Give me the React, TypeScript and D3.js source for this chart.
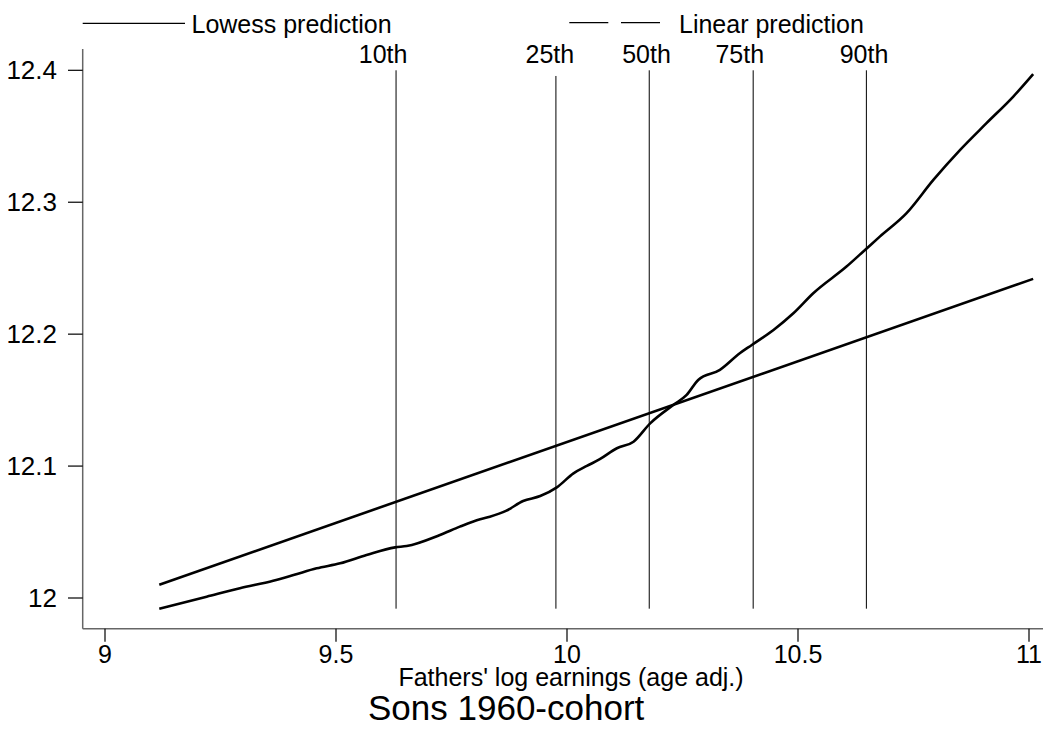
import React from "react";
import * as d3 from "d3";

// ---- data ----
const lowessX = [
  9.1175, 9.22, 9.292, 9.364, 9.408, 9.458, 9.509, 9.566, 9.628, 9.653, 9.725, 9.768,
  9.812, 9.833, 9.869, 9.905, 9.942, 9.978, 10.014, 10.043, 10.071, 10.108, 10.144,
  10.18, 10.23, 10.259, 10.284, 10.331, 10.374, 10.4, 10.447, 10.49, 10.533, 10.605,
  10.645, 10.677, 10.735, 10.793, 10.851, 10.908, 10.966, 11.009,
];
const lowessY = [
  11.9919, 12.001, 12.0074, 12.0131, 12.0174, 12.0225, 12.0263, 12.0326, 12.0384,
  12.0394, 12.0478, 12.0541, 12.0597, 12.0616, 12.0662, 12.0735, 12.0773, 12.0839,
  12.0945, 12.1001, 12.1052, 12.1135, 12.1185, 12.1324, 12.1463, 12.1539, 12.1653,
  12.1729, 12.1855, 12.1918, 12.2032, 12.2158, 12.231, 12.2512, 12.2638, 12.2739,
  12.2917, 12.3169, 12.3397, 12.3599, 12.3801, 12.3971,
];
const linearX = [9.1175, 11.009];
const linearY = [12.0101, 12.2419];

const percentileLabels = ["10th", "25th", "50th", "75th", "90th"];
const percentileX = [9.63, 9.976, 10.178, 10.403, 10.648];
const percentileLabelX = [9.602, 9.963, 10.172, 10.374, 10.643];
const percentileTop = [12.4, 12.3957, 12.4, 12.4, 12.4];
const percentileBottom = 11.9919;

const xTicks = [9, 9.5, 10, 10.5, 11];
const yTicks = [12, 12.1, 12.2, 12.3, 12.4];

const legendLabels = ["Lowess prediction", "Linear prediction"];
const xTitle = "Fathers' log earnings (age adj.)";
const chartTitle = "Sons 1960-cohort";

export default function App() {
  const W = 1057;
  const H = 731;
  const x = d3.scaleLinear().domain([9, 11]).range([105, 1029]);
  const y = d3.scaleLinear().domain([12, 12.4]).range([598, 70.3]);
  const font = "'Liberation Sans', Arial, sans-serif";

  const frameLeft = 82.7;
  const frameBottom = 628.7;
  const frameTop = 49;
  const frameRight = 1043;

  const line = d3
    .line<[number, number]>()
    .x((d) => x(d[0]))
    .y((d) => y(d[1]));
  const smoothLine = d3
    .line<[number, number]>()
    .x((d) => x(d[0]))
    .y((d) => y(d[1]))
    .curve(d3.curveMonotoneX);

  const lowessPts: [number, number][] = lowessX.map((v, i) => [v, lowessY[i]]);
  const linearPts: [number, number][] = linearX.map((v, i) => [v, linearY[i]]);

  return (
    <svg
      width={W}
      height={H}
      style={{ position: "absolute", left: 0, top: 0, background: "#fff" }}
      fontFamily={font}
    >
      <rect x={0} y={0} width={W} height={H} fill="#fff" />
      {/* legend */}
      <line x1={82.7} x2={185} y1={23.3} y2={23.3} stroke="#000" strokeWidth={1.2} />
      <text x={191.5} y={33.3} fontSize={25} fill="#000">
        {legendLabels[0]}
      </text>
      <line x1={569.3} x2={608.3} y1={22.7} y2={22.7} stroke="#000" strokeWidth={1.2} />
      <line x1={621} x2={660} y1={22.7} y2={22.7} stroke="#000" strokeWidth={1.2} />
      <text x={679} y={33.3} fontSize={25} fill="#000">
        {legendLabels[1]}
      </text>

      {/* axes */}
      <line x1={frameLeft} x2={frameLeft} y1={frameTop} y2={frameBottom} stroke="#666" strokeWidth={1.5} />
      <line x1={frameLeft} x2={frameRight} y1={frameBottom} y2={frameBottom} stroke="#666" strokeWidth={1.5} />
      {yTicks.map((t) => (
        <g key={"y" + t}>
          <line x1={68} x2={frameLeft} y1={y(t)} y2={y(t)} stroke="#000" strokeWidth={1.2} />
          <text x={57} y={y(t) + 9} fontSize={26} textAnchor="end" fill="#000">
            {t === 12 ? "12" : t.toFixed(1)}
          </text>
        </g>
      ))}
      {xTicks.map((t) => (
        <g key={"x" + t}>
          <line x1={x(t)} x2={x(t)} y1={frameBottom} y2={frameBottom + 13} stroke="#000" strokeWidth={1.2} />
          <text x={x(t)} y={662.5} fontSize={25} textAnchor="middle" fill="#000">
            {String(t)}
          </text>
        </g>
      ))}
      <text x={571} y={686} fontSize={25} textAnchor="middle" fill="#000">
        {xTitle}
      </text>
      <text x={368} y={720} fontSize={35} fill="#000">
        {chartTitle}
      </text>

      {/* percentile lines */}
      {percentileX.map((p, i) => (
        <g key={"p" + i}>
          <line
            x1={x(p)}
            x2={x(p)}
            y1={y(percentileTop[i])}
            y2={y(percentileBottom)}
            stroke="#000"
            strokeWidth={1}
          />
          <text x={x(percentileLabelX[i])} y={63} fontSize={25} textAnchor="middle" fill="#000">
            {percentileLabels[i]}
          </text>
        </g>
      ))}

      {/* series */}
      <path d={line(linearPts) || ""} fill="none" stroke="#000" strokeWidth={2.6} />
      <path
        d={smoothLine(lowessPts) || ""}
        fill="none"
        stroke="#000"
        strokeWidth={2.6}
        strokeLinejoin="round"
      />
    </svg>
  );
}
